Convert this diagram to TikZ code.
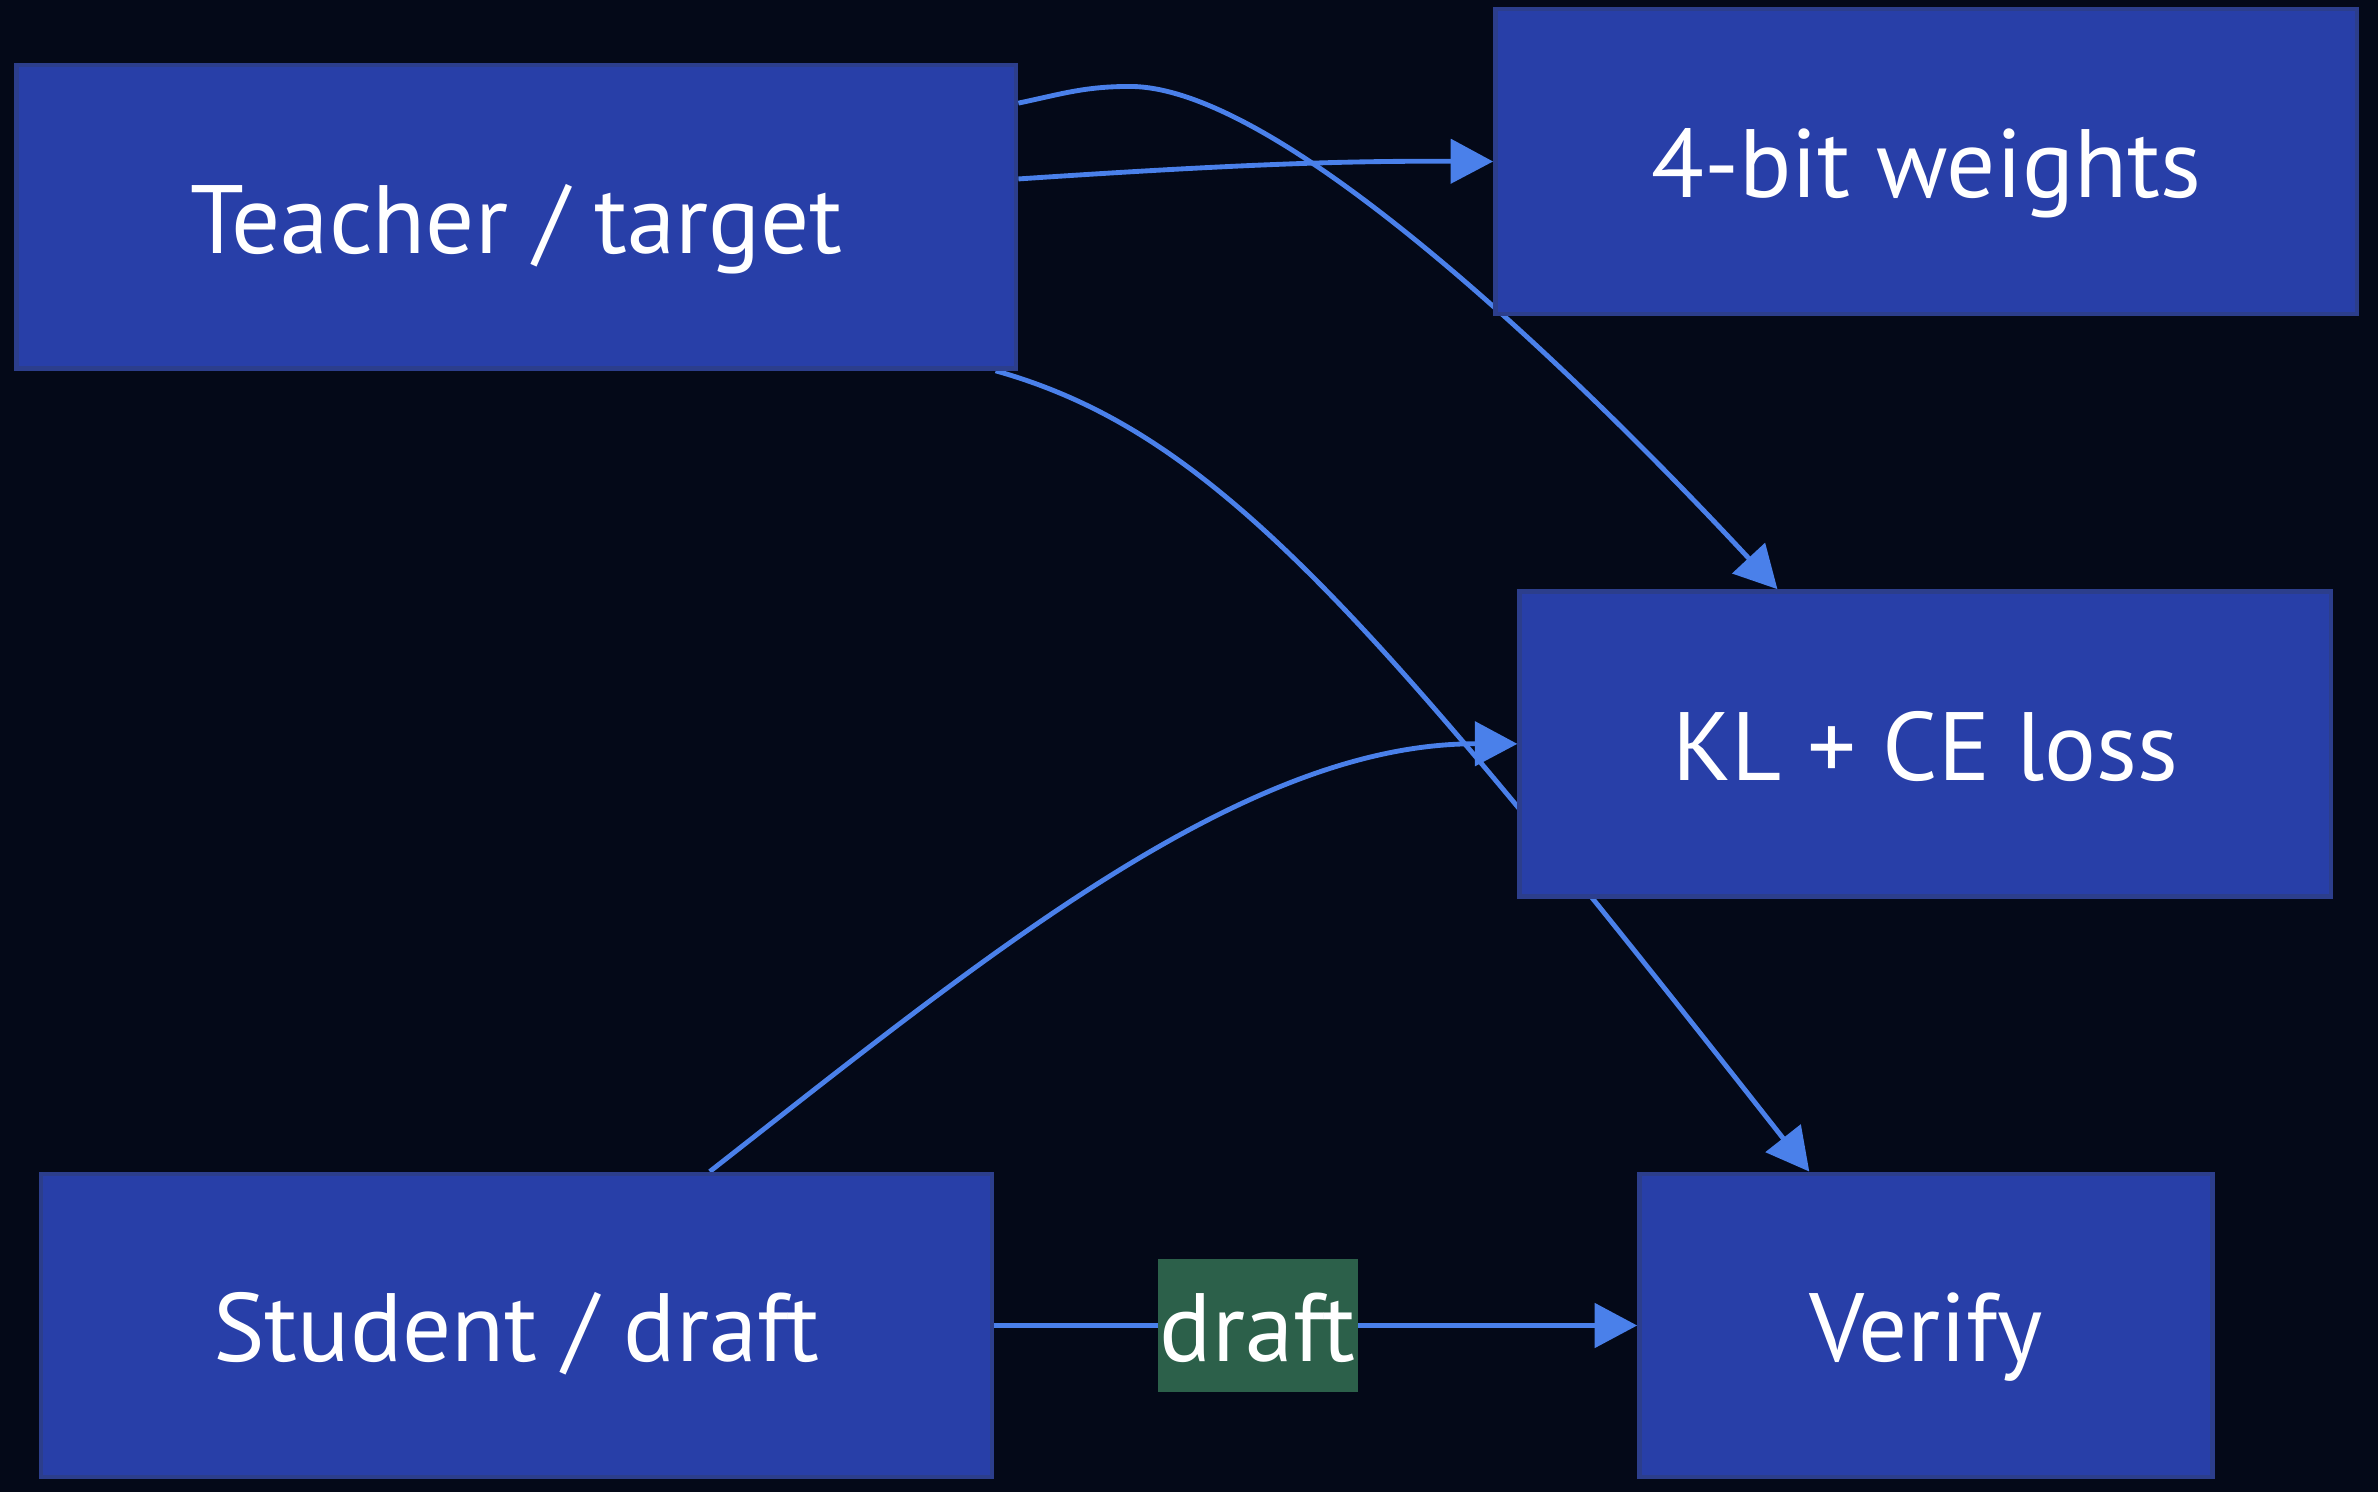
\documentclass[tikz,border=0pt]{standalone}
\usepackage{fontspec}
\setmainfont{PT Sans}[Ligatures={NoCommon}]
\usetikzlibrary{arrows.meta}
\definecolor{bgc}{RGB}{4,9,24}
\definecolor{boxfill}{RGB}{40,63,168}
\definecolor{boxline}{RGB}{44,62,140}
\definecolor{edgec}{RGB}{74,128,234}
\definecolor{lblfill}{RGB}{44,96,74}
\pgfdeclarelayer{bglayer}
\pgfdeclarelayer{edgelayer}
\pgfsetlayers{bglayer,edgelayer,main}
\tikzset{
  boxnode/.style={draw=boxline, line width=3pt, fill=boxfill, text=white,
    font=\fontsize{64}{77}\selectfont, inner sep=0pt, anchor=center,
    text height=48pt, text depth=0pt},
  edge/.style={draw=edgec, line width=3.2pt},
  arr/.style={-{Triangle[length=28pt,width=29pt]}},
  lbl/.style={fill=lblfill, text=white, font=\fontsize{64}{77}\selectfont,
    inner xsep=0pt, inner ysep=0pt, minimum height=88pt, minimum width=132pt,
    text height=48pt, text depth=0pt}
}
\begin{document}
\begin{tikzpicture}[x=1pt,y=-1pt]
\begin{pgfonlayer}{bglayer}
\fill[bgc] (0,0) rectangle (1568,984);
\end{pgfonlayer}
\useasboundingbox (0,0) rectangle (1568,984);

\node[boxnode, minimum width=659pt, minimum height=200pt] (T) at (340.5,143) {Teacher / target};
\node[boxnode, minimum width=568pt, minimum height=201pt] (W) at (1270,106.5) {4-bit weights};
\node[boxnode, minimum width=535pt, minimum height=201pt] (K) at (1269.5,490.5) {KL + CE loss};
\node[boxnode, minimum width=627pt, minimum height=200pt] (S) at (340.5,874) {Student / draft};
\node[boxnode, minimum width=378pt, minimum height=200pt] (V) at (1270,874) {Verify};

\begin{pgfonlayer}{edgelayer}
\draw[edge, arr] ([yshift=25pt]T.east) .. controls (820,108) and (890,106) .. (W.west);
\draw[edge, arr] ([yshift=75pt]T.east) .. controls (700,62) and (715,57) .. (745,57)
  .. controls (850,57) and (1060,268) .. ([xshift=-97.5pt]K.north);
\draw[edge, arr] ([xshift=-15pt]T.south east) .. controls (800,285) and (900,400) .. ([xshift=-77pt]V.north);
\draw[edge, arr] ([xshift=127.5pt]S.north) .. controls (650,630) and (820,490) .. (K.west);
\draw[edge, arr] (S.east) -- node[lbl, pos=0.41] (L) {draft} (V.west);
\end{pgfonlayer}
\end{tikzpicture}
\end{document}
